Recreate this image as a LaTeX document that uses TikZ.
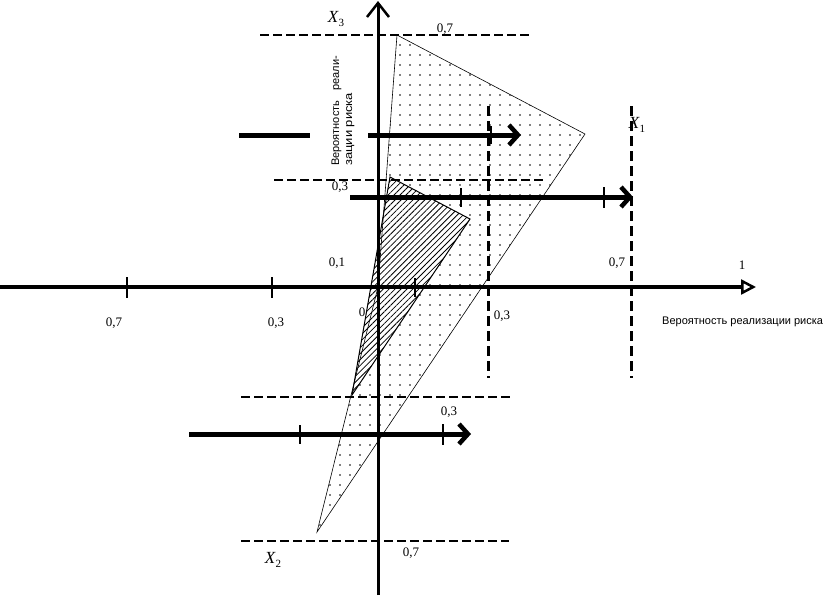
\documentclass[tikz,border=0pt]{standalone}
\usepackage{fontspec}
\setmainfont{Liberation Serif}
\newfontfamily\lsans{Liberation Sans}
\usetikzlibrary{arrows.meta,patterns.meta}
\begin{document}
\begin{tikzpicture}[x=1pt,y=-1pt,
  lbl/.style={font=\fontsize{13}{15}\selectfont, inner sep=0pt},
  xlbl/.style={font=\fontsize{17}{19}\selectfont, inner sep=0pt},
  sanslbl/.style={font=\lsans\fontsize{11}{13}\selectfont, inner sep=0pt},
  vaxis/.style={line width=3pt,-{Straight Barb[length=14pt,width=22pt,line width=2.5pt]}},
  haxis/.style={line width=3.5pt,-{Triangle[open,length=15pt,width=15pt,line width=2.5pt]}},
  bigarrow/.style={line width=5pt,-{Straight Barb[length=9pt,width=20pt,line width=4.5pt]}},
  bar/.style={line width=5pt},
  tickmark/.style={line width=2pt},
  dashh/.style={line width=2pt,dash pattern=on 9pt off 4pt},
  dashv/.style={line width=3pt,dash pattern=on 10pt off 5pt},
  edgeline/.style={line width=0.6pt},
  hatchedge/.style={line width=1pt},
  dotfill/.style={pattern={Dots[distance=10pt,radius=0.8pt]}},
  hatchfill/.style={pattern={Lines[angle=45,distance=4.2pt,line width=0.8pt]}}
]
\path[use as bounding box] (0,0) rectangle (828,595);

% polygon vertices
\coordinate (O) at (378,287);
\coordinate (A) at (397,35);
\coordinate (B) at (585,134);
\coordinate (C) at (317,532);
\coordinate (H1) at (390,177);
\coordinate (H2) at (470,219);
\coordinate (H3) at (352,395);

% dotted region
\fill[dotfill] (A) -- (B) -- (C) -- (O) -- cycle;
% hatched triangle
\fill[white] (H1) -- (H2) -- (H3) -- cycle;
\fill[hatchfill] (H1) -- (H2) -- (H3) -- cycle;
\draw[edgeline] (A) -- (B) -- (C) -- (O) -- cycle;
\draw[hatchedge] (H1) -- (H2) -- (H3) -- cycle;

% dashed guide lines
\coordinate (d1l) at (260,35);  \coordinate (d1r) at (530,35);
\coordinate (d2l) at (274,180); \coordinate (d2r) at (545,180);
\coordinate (d3l) at (241,397); \coordinate (d3r) at (511,397);
\coordinate (d4l) at (241,541); \coordinate (d4r) at (509,541);
\coordinate (v1t) at (488,106); \coordinate (v1b) at (488,378);
\coordinate (v2t) at (631,106); \coordinate (v2b) at (631,378);
\draw[dashh] (d1l) -- (d1r);
\draw[dashh] (d2l) -- (d2r);
\draw[dashh] (d3l) -- (d3r);
\draw[dashh] (d4l) -- (d4r);
\draw[dashv] (v1t) -- (v1b);
\draw[dashv] (v2t) -- (v2b);

% axes
\coordinate (Vb) at (378,595); \coordinate (Vt) at (378,1);
\coordinate (Hl) at (0,287);   \coordinate (Hr) at (756,287);
\draw[vaxis] (Vb) -- (Vt);
\draw[haxis] (Hl) -- (Hr);
\coordinate (t1a) at (127,277); \coordinate (t1b) at (127,298);
\coordinate (t2a) at (272,277); \coordinate (t2b) at (272,298);
\coordinate (t3a) at (415,278); \coordinate (t3b) at (415,297);
\draw[tickmark] (t1a) -- (t1b);
\draw[tickmark] (t2a) -- (t2b);
\draw[tickmark] (t3a) -- (t3b);

% thick arrows
\coordinate (r1a) at (239,135); \coordinate (r1b) at (310,135);
\coordinate (r1c) at (368,135); \coordinate (r1d) at (521,135);
\draw[bar] (r1a) -- (r1b);
\draw[bigarrow] (r1c) -- (r1d);
\coordinate (r1t1) at (491,126); \coordinate (r1t2) at (491,144);
\draw[tickmark] (r1t1) -- (r1t2);

\coordinate (r2a) at (350,197); \coordinate (r2b) at (633,197);
\draw[bigarrow] (r2a) -- (r2b);
\coordinate (r2t1) at (461,188); \coordinate (r2t2) at (461,207);
\coordinate (r2t3) at (604,187); \coordinate (r2t4) at (604,208);
\draw[tickmark] (r2t1) -- (r2t2);
\draw[tickmark] (r2t3) -- (r2t4);

\coordinate (r3a) at (189,434); \coordinate (r3b) at (471,434);
\draw[bigarrow] (r3a) -- (r3b);
\coordinate (r3t1) at (300,425); \coordinate (r3t2) at (300,444);
\coordinate (r3t3) at (443,424); \coordinate (r3t4) at (443,445);
\draw[tickmark] (r3t1) -- (r3t2);
\draw[tickmark] (r3t3) -- (r3t4);

% number labels
\node[lbl] (n07t) at (445,29) {0,7};
\node[lbl] (n03a) at (340,187) {0,3};
\node[lbl] (n01)  at (337,263) {0,1};
\node[lbl] (n0)   at (362,312) {0};
\node[lbl] (n03b) at (502,316) {0,3};
\node[lbl] (n07r) at (617,263) {0,7};
\node[lbl] (n1)   at (742,265) {1};
\node[lbl] (n07l) at (114,323) {0,7};
\node[lbl] (n03l) at (276,323) {0,3};
\node[lbl] (n03d) at (449,412) {0,3};
\node[lbl] (n07b) at (411,553) {0,7};

% axis names
\node[xlbl] (x3) at (336,19) {\textit{X}\raisebox{-4pt}{\fontsize{11}{12}\selectfont 3}};
\node[xlbl] (x1) at (637,125) {\textit{X}\raisebox{-4pt}{\fontsize{11}{12}\selectfont 1}};
\node[xlbl] (x2) at (273,560) {\textit{X}\raisebox{-4pt}{\fontsize{11}{12}\selectfont 2}};

% rotated axis caption
\node[sanslbl,rotate=90,anchor=base west] (rt1) at (339,166) {Вероятность\hspace{10pt}реали-};
\node[sanslbl,rotate=90,anchor=base west] (rt2) at (352,166) {\scalebox{1.18}[1]{зации риска}};

% horizontal axis caption
\node[sanslbl,anchor=west] (hcap) at (662,322) {Вероятность реализации риска};
\end{tikzpicture}
\end{document}
